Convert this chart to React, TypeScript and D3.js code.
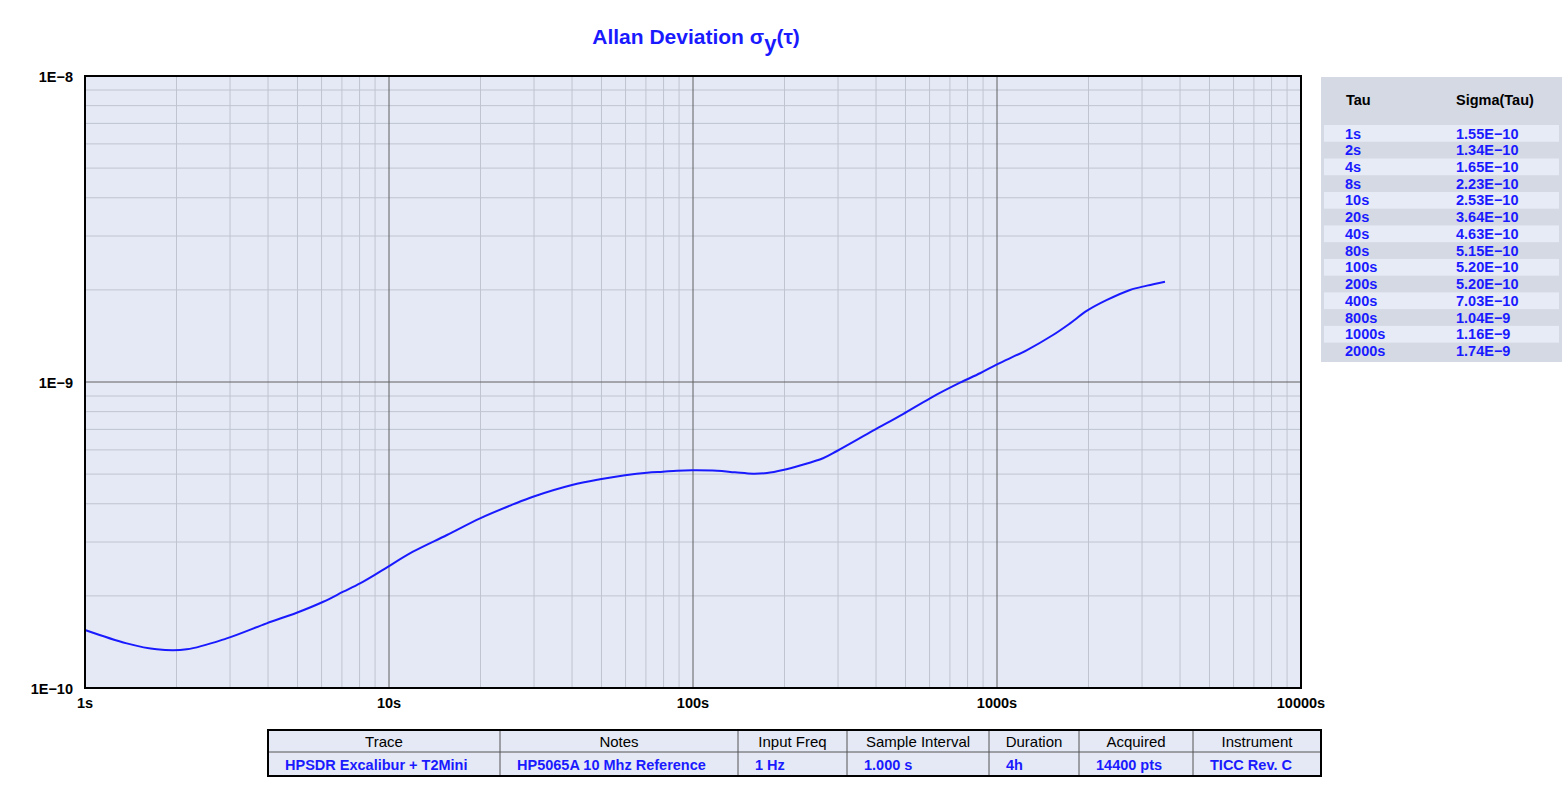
import React from "react";
import * as d3 from "d3";

const tauData = [1.0, 1.372, 1.721, 2.161, 2.925, 3.959, 4.971, 6.08, 7.073, 8.029, 9.342, 11.99, 15.51, 19.93, 25.58, 29.77, 39.99, 49.44, 59.75, 70.58, 79.66, 88.6, 99.2, 119.9, 137.5, 157.6, 175.2, 197.8, 224.9, 267.7, 297.6, 390.9, 490.8, 602.0, 755.6, 879.4, 1000, 1255, 1528, 1739, 1978, 2300, 2738, 3114, 3569];
const sigmaData = [1.547e-10, 1.399e-10, 1.338e-10, 1.338e-10, 1.453e-10, 1.627e-10, 1.762e-10, 1.914e-10, 2.064e-10, 2.198e-10, 2.4e-10, 2.789e-10, 3.162e-10, 3.585e-10, 3.98e-10, 4.218e-10, 4.606e-10, 4.808e-10, 4.955e-10, 5.053e-10, 5.092e-10, 5.129e-10, 5.145e-10, 5.129e-10, 5.068e-10, 5.015e-10, 5.042e-10, 5.157e-10, 5.335e-10, 5.632e-10, 5.95e-10, 6.931e-10, 7.858e-10, 8.846e-10, 9.947e-10, 1.068e-9, 1.142e-9, 1.272e-9, 1.424e-9, 1.555e-9, 1.71e-9, 1.854e-9, 1.999e-9, 2.065e-9, 2.127e-9];

const xTickValues = [1, 10, 100, 1000, 10000];
const xTickLabels = ["1s", "10s", "100s", "1000s", "10000s"];
const yTickValues = [1e-10, 1e-9, 1e-8];
const yTickLabels = ["1E\u221210", "1E\u22129", "1E\u22128"];

const tableTau = ["1s", "2s", "4s", "8s", "10s", "20s", "40s", "80s", "100s", "200s", "400s", "800s", "1000s", "2000s"];
const tableSigma = ["1.55E\u221210", "1.34E\u221210", "1.65E\u221210", "2.23E\u221210", "2.53E\u221210", "3.64E\u221210", "4.63E\u221210", "5.15E\u221210", "5.20E\u221210", "5.20E\u221210", "7.03E\u221210", "1.04E\u22129", "1.16E\u22129", "1.74E\u22129"];

const infoHeaders = ["Trace", "Notes", "Input Freq", "Sample Interval", "Duration", "Acquired", "Instrument"];
const infoValues = ["HPSDR Excalibur + T2Mini", "HP5065A 10 Mhz Reference", "1 Hz", "1.000 s", "4h", "14400 pts", "TICC Rev. C"];
const infoColEdges = [268, 500, 738, 847, 989, 1079, 1193, 1321];

const FONT = "'Liberation Sans', Arial, sans-serif";
const BLUE = "#1a1aff";

export default function App() {
  const L = 85, R = 1301, T = 76, B = 688;
  const x = d3.scaleLog().domain([1, 10000]).range([L, R]);
  const y = d3.scaleLog().domain([1e-10, 1e-8]).range([B, T]);

  const minorX: number[] = [];
  for (let d = 1; d < 10000; d *= 10) for (let k = 2; k <= 9; k++) minorX.push(d * k);
  const minorY: number[] = [];
  for (let d = 1e-10; d < 1e-8 * 0.99; d *= 10) for (let k = 2; k <= 9; k++) minorY.push(d * k);

  const pts: [number, number][] = tauData.map((t, i) => [t, sigmaData[i]]);
  const line = d3.line<[number, number]>().x(d => x(d[0])).y(d => y(d[1])).curve(d3.curveCatmullRom.alpha(0.5));

  const rowTop = 125, rowH = 16.74;

  return (
    <svg width={1567} height={808} style={{ position: "absolute", left: 0, top: 0, background: "#fff" }} fontFamily={FONT}>
      <rect x={0} y={0} width={1567} height={808} fill="#ffffff" />
      {/* title */}
      <text x={696} y={44} textAnchor="middle" fill={BLUE} fontSize={21} fontWeight="bold">
        Allan Deviation σ<tspan dy={7} fontSize={22}>y</tspan><tspan dy={-7}>(τ)</tspan>
      </text>

      {/* plot area */}
      <rect x={L} y={T} width={R - L} height={B - T} fill="#e4e9f5" />
      {minorX.map((v, i) => (
        <line key={"mx" + i} x1={x(v)} x2={x(v)} y1={T} y2={B} stroke="#bfc4d0" strokeWidth={1} />
      ))}
      {minorY.map((v, i) => (
        <line key={"my" + i} x1={L} x2={R} y1={y(v)} y2={y(v)} stroke="#bfc4d0" strokeWidth={1} />
      ))}
      {xTickValues.map((v, i) => (
        <line key={"Mx" + i} x1={x(v)} x2={x(v)} y1={T} y2={B} stroke="#606060" strokeWidth={1} />
      ))}
      {yTickValues.map((v, i) => (
        <line key={"My" + i} x1={L} x2={R} y1={y(v)} y2={y(v)} stroke="#606060" strokeWidth={1} />
      ))}
      <path d={line(pts) || ""} fill="none" stroke={BLUE} strokeWidth={2} />
      <rect x={L} y={T} width={R - L} height={B - T} fill="none" stroke="#000" strokeWidth={2} />

      {xTickValues.map((v, i) => (
        <text key={"xl" + i} x={x(v)} y={708} textAnchor="middle" fontSize={14.5} fontWeight="bold" fill="#000">{xTickLabels[i]}</text>
      ))}
      {yTickValues.map((v, i) => (
        <text key={"yl" + i} x={73} y={y(v) + 6} textAnchor="end" fontSize={14.5} fontWeight="bold" fill="#000">{yTickLabels[i]}</text>
      ))}

      {/* right table */}
      <rect x={1321} y={77} width={241} height={285} fill="#d4d9e4" />
      <text x={1346} y={105} fontSize={14.5} fontWeight="bold" fill="#000">Tau</text>
      <text x={1456} y={105} fontSize={14.5} fontWeight="bold" fill="#000">Sigma(Tau)</text>
      {tableTau.map((t, i) => (
        <g key={"tr" + i}>
          {i % 2 === 0 && <rect x={1324} y={rowTop + i * rowH} width={235} height={rowH} fill="#e6ebf6" />}
          <text x={1345} y={rowTop + i * rowH + 13.5} fontSize={14.5} fontWeight="bold" fill={BLUE}>{t}</text>
          <text x={1456} y={rowTop + i * rowH + 13.5} fontSize={14.5} fontWeight="bold" fill={BLUE}>{tableSigma[i]}</text>
        </g>
      ))}

      {/* bottom info table */}
      <rect x={268} y={730} width={1053} height={46} fill="#e4e9f5" />
      {infoHeaders.map((h, i) => {
        const x0 = infoColEdges[i], x1 = infoColEdges[i + 1];
        return (
          <g key={"ih" + i}>
            <text x={(x0 + x1) / 2} y={747} textAnchor="middle" fontSize={15} fill="#000">{h}</text>
            <text x={x0 + 17} y={770} fontSize={14.5} fontWeight="bold" fill={BLUE}>{infoValues[i]}</text>
            {i > 0 && <line x1={x0} x2={x0} y1={730} y2={776} stroke="#555" strokeWidth={1} />}
          </g>
        );
      })}
      <line x1={268} x2={1321} y1={752} y2={752} stroke="#555" strokeWidth={1} />
      <rect x={268} y={730} width={1053} height={46} fill="none" stroke="#000" strokeWidth={2} />
    </svg>
  );
}
